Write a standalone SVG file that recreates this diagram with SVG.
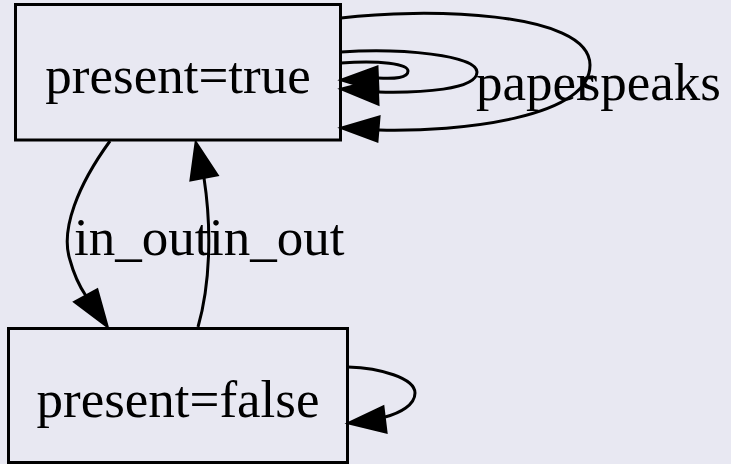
<svg xmlns="http://www.w3.org/2000/svg" width="731" height="464" viewBox="0 0 731 464">
<style>
.node rect{fill:none;stroke:#000;stroke-width:3}
text{font-family:"Liberation Serif","Times New Roman",serif;font-size:53px;fill:#000}
.edge path{fill:none;stroke:#000;stroke-width:3}
.edge polygon{fill:#000;stroke:#000;stroke-width:3;stroke-linejoin:miter}
</style>
<rect x="0" y="0" width="731" height="464" fill="#e8e8f2"/>
<g id="node_true" class="node">
<rect x="15.5" y="4.5" width="325" height="135.5"/>
<text x="178" y="93" text-anchor="middle">present=true</text>
</g>
<g id="node_false" class="node">
<rect x="8.5" y="328.5" width="339" height="134"/>
<text x="178" y="417" text-anchor="middle">present=false</text>
</g>
<g id="edges" class="edge">
<path d="M110,141 C78,185 60,230 70,260 C74,275 80,287 86,296"/>
<polygon points="107,326 75,302 97,290"/>
<text x="74" y="255">in_out</text>
<path d="M198,327 C210,285 212,230 204,178"/>
<polygon points="196,143 217,175 191,180"/>
<text x="209" y="255">in_out</text>
<path d="M341,18 C420,8 590,10 590,65 C590,118 460,132 379,130"/>
<polygon points="342,128 379,117 377,141"/>
<path d="M341,52 C400,48 477,55 477,72 C477,90 420,93 378,92"/>
<polygon points="342,89 377,80 378,104"/>
<path d="M341,63 C380,60 408,64 408,71 C408,78 395,79 378,78"/>
<polygon points="342,80 377,67 378,91"/>
<text x="476" y="100">paper</text>
<text x="721" y="100" text-anchor="end">speaks</text>
<path d="M348,367 C380,368 415,378 415,393 C415,405 400,413 385,417"/>
<polygon points="349,423 383,407 386,432"/>
</g>
</svg>
